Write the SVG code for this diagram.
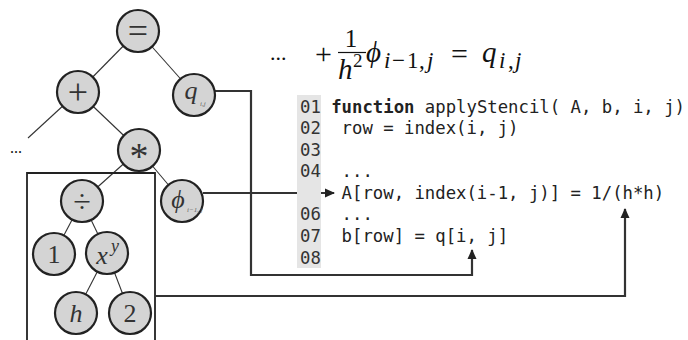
<svg xmlns="http://www.w3.org/2000/svg" width="688" height="340" viewBox="0 0 688 340">
  <style>
    .node circle { fill: #d4d4d4; stroke: #222; stroke-width: 2.2; }
    .sym { font-family: "Liberation Serif", "DejaVu Serif", serif; fill: #333; text-anchor: middle; }
    .it { font-style: italic; }
    .sub { font-family: "Liberation Serif", "DejaVu Serif", serif; font-style: italic; fill: #666; font-size: 7px; }
    .edge { stroke: #333; stroke-width: 1.1; fill: none; }
    .conn { stroke: #333; stroke-width: 2.2; fill: none; }
    .math { font-family: "Liberation Serif", "DejaVu Serif", serif; fill: #111; }
    .code { font-family: "DejaVu Sans Mono", "Liberation Mono", monospace; font-size: 17.3px; fill: #222; }
    .ln { fill: #333; }
  </style>
  <defs>
    <marker id="arrow" markerWidth="10" markerHeight="10" refX="9" refY="5" orient="auto" markerUnits="userSpaceOnUse">
      <path d="M0,0.5 L10,5 L0,9.5 Z" fill="#222"/>
    </marker>
  </defs>

  <rect width="688" height="340" fill="#fff"/>

  <!-- tree edges -->
  <g id="tree-edges">
    <line class="edge" x1="138" y1="31" x2="78" y2="92"/>
    <line class="edge" x1="138" y1="31" x2="194" y2="94"/>
    <line class="edge" x1="78" y1="92" x2="28" y2="138"/>
    <line class="edge" x1="78" y1="92" x2="139" y2="150"/>
    <line class="edge" x1="139" y1="150" x2="82" y2="201"/>
    <line class="edge" x1="139" y1="150" x2="182" y2="201"/>
    <line class="edge" x1="82" y1="201" x2="54" y2="254"/>
    <line class="edge" x1="82" y1="201" x2="107" y2="253"/>
    <line class="edge" x1="107" y1="253" x2="76" y2="313"/>
    <line class="edge" x1="107" y1="253" x2="130" y2="313"/>
  </g>
  <text class="math" x="10" y="153" font-size="16">...</text>

  <!-- sub-expression frame -->
  <path d="M27,341 V173 H155 V341" fill="none" stroke="#222" stroke-width="1.8"/>

  <!-- connectors -->
  <g id="connectors">
    <path class="conn" d="M215,91 H251 V275 H472 V250" marker-end="url(#arrow)"/>
    <path class="conn" d="M203,193 H334" marker-end="url(#arrow)"/>
    <path class="conn" d="M155,296 H625 V209" marker-end="url(#arrow)"/>
  </g>

  <!-- expression tree nodes -->
  <g id="node-eq" class="node">
    <circle cx="138" cy="31" r="21"/>
    <text class="sym" x="138" y="43" font-size="36">=</text>
  </g>
  <g id="node-plus" class="node">
    <circle cx="78" cy="92" r="21"/>
    <text class="sym" x="78" y="104" font-size="36">+</text>
  </g>
  <g id="node-q" class="node">
    <circle cx="194" cy="95" r="21"/>
    <text class="sym it" x="191" y="99" font-size="26">q</text>
    <text class="sub" x="200" y="106">i,j</text>
  </g>
  <g id="node-mul" class="node">
    <circle cx="139" cy="150" r="21"/>
    <text class="sym" x="139" y="169" font-size="38">*</text>
  </g>
  <g id="node-div" class="node">
    <circle cx="82" cy="201" r="21"/>
    <text class="sym" x="82" y="212" font-size="32">÷</text>
  </g>
  <g id="node-phi" class="node">
    <circle cx="182" cy="201" r="21"/>
    <text class="sym it" x="178" y="208" font-size="26">ϕ</text>
    <text class="sub" x="187" y="212" font-size="6">i−1, j</text>
  </g>
  <g id="node-one" class="node">
    <circle cx="54" cy="254" r="21"/>
    <text class="sym" x="54" y="263" font-size="26">1</text>
  </g>
  <g id="node-pow" class="node">
    <circle cx="107" cy="253" r="21"/>
    <text class="sym it" x="102" y="264" font-size="26">x</text>
    <text class="sym it" x="115" y="252" font-size="18">y</text>
  </g>
  <g id="node-h" class="node">
    <circle cx="76" cy="313" r="21"/>
    <text class="sym it" x="76" y="322" font-size="26">h</text>
  </g>
  <g id="node-two" class="node">
    <circle cx="130" cy="313" r="21"/>
    <text class="sym" x="130" y="322" font-size="26">2</text>
  </g>

  <!-- discretised equation -->
  <g id="equation" class="math">
    <text x="270" y="60" font-size="22">...</text>
    <text x="315" y="64" font-size="30">+</text>
    <text x="351" y="47" font-size="25" text-anchor="middle">1</text>
    <line x1="338" y1="52.5" x2="366" y2="52.5" stroke="#111" stroke-width="1.2"/>
    <text x="338" y="79" font-size="29" font-style="italic">h</text>
    <text x="353" y="67" font-size="19">2</text>
    <text x="366" y="62" font-size="29" font-style="italic">ϕ</text>
    <text y="68" font-size="23" font-style="italic"><tspan x="384">i</tspan><tspan x="392" font-style="normal">−</tspan><tspan x="407" font-style="normal">1</tspan><tspan x="419" font-style="normal">,</tspan><tspan x="427">j</tspan></text>
    <text x="451" y="64" font-size="30">=</text>
    <text x="482" y="62" font-size="29" font-style="italic">q</text>
    <text y="68" font-size="23" font-style="italic"><tspan x="499">i</tspan><tspan x="508" font-style="normal">,</tspan><tspan x="515">j</tspan></text>
  </g>

  <!-- code listing -->
  <g id="code">
    <rect x="297" y="95" width="24" height="173" fill="#e5e5e5"/>
    <text class="code" xml:space="preserve" x="300" y="113"><tspan class="ln">01</tspan> <tspan font-weight="bold">function</tspan> applyStencil( A, b, i, j)</text>
    <text class="code" xml:space="preserve" x="300" y="134"><tspan class="ln">02</tspan>  row = index(i, j)</text>
    <text class="code" xml:space="preserve" x="300" y="156"><tspan class="ln">03</tspan></text>
    <text class="code" xml:space="preserve" x="300" y="177"><tspan class="ln">04</tspan>  ...</text>
    <text class="code" xml:space="preserve" x="300" y="199">    A[row, index(i-1, j)] = 1/(h*h)</text>
    <text class="code" xml:space="preserve" x="300" y="220"><tspan class="ln">06</tspan>  ...</text>
    <text class="code" xml:space="preserve" x="300" y="242"><tspan class="ln">07</tspan>  b[row] = q[i, j]</text>
    <text class="code" xml:space="preserve" x="300" y="264"><tspan class="ln">08</tspan></text>
  </g>
</svg>
